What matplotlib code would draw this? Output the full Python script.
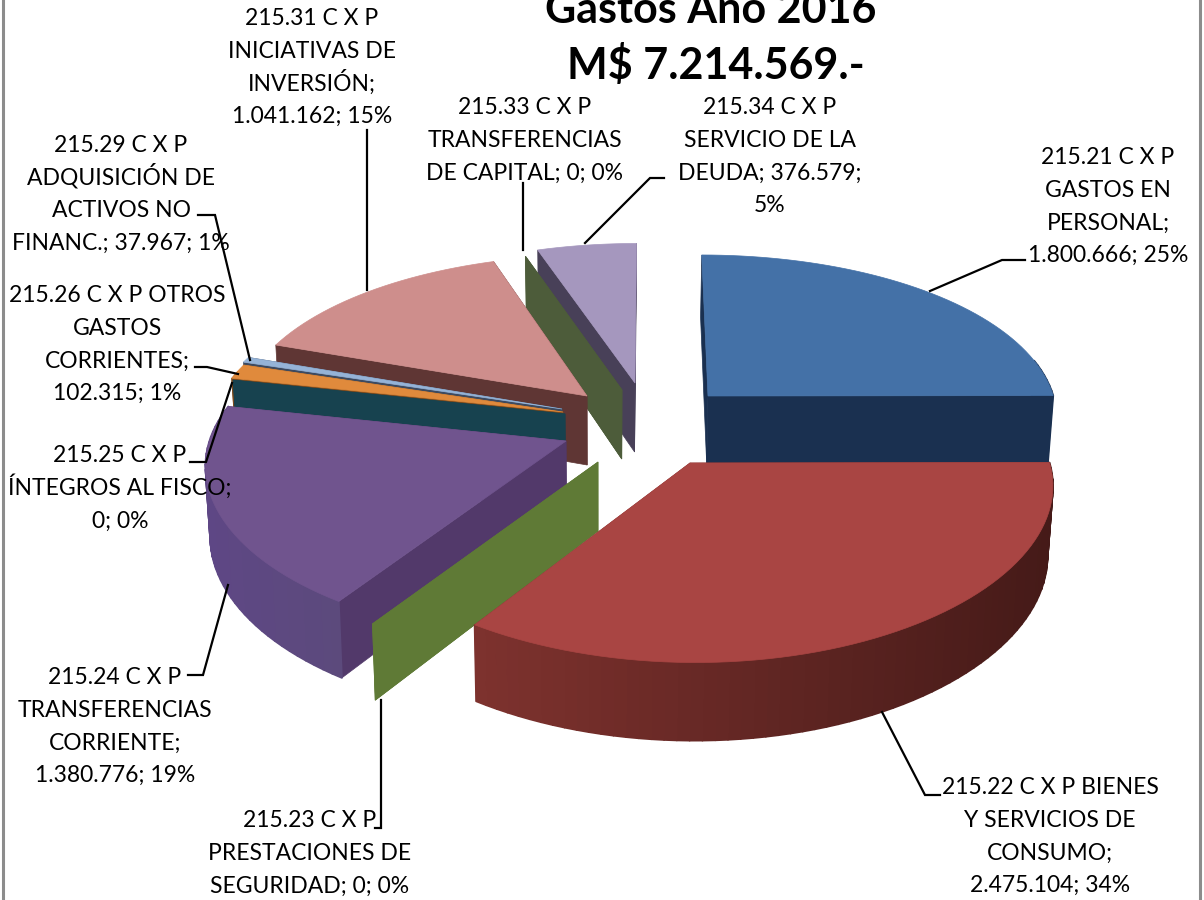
# gastos 2016, exploded 3d pie drawn by hand (matplotlib has no 3d pie)

import math
import matplotlib
matplotlib.use("Agg")
import matplotlib.pyplot as plt
from matplotlib.collections import PolyCollection
from matplotlib.colors import to_rgb

VALUES = [1800666, 2475104, 0, 1380776, 0, 102315, 37967, 1041162, 0, 376579]

LABELS = [
    "215.21 C X P\nGASTOS EN\nPERSONAL;\n1.800.666; 25%",
    "215.22 C X P BIENES\nY SERVICIOS DE\nCONSUMO;\n2.475.104; 34%",
    "215.23 C X P\nPRESTACIONES DE\nSEGURIDAD; 0; 0%",
    "215.24 C X P\nTRANSFERENCIAS\nCORRIENTE;\n1.380.776; 19%",
    "215.25 C X P\nÍNTEGROS AL FISCO;\n0; 0%",
    "215.26 C X P OTROS\nGASTOS\nCORRIENTES;\n102.315; 1%",
    "215.29 C X P\nADQUISICIÓN DE\nACTIVOS NO\nFINANC.; 37.967; 1%",
    "215.31 C X P\nINICIATIVAS DE\nINVERSIÓN;\n1.041.162; 15%",
    "215.33 C X P\nTRANSFERENCIAS\nDE CAPITAL; 0; 0%",
    "215.34 C X P\nSERVICIO DE LA\nDEUDA; 376.579;\n5%",
]

TITLE_LINES = ["Gastos Año 2016", "M$ 7.214.569.-"]

# layout, all in image pixels
TITLE_POS = [(711, 23), (716, 79)]
LINE_H = 32.8
LABEL_POS = [(1108, 205), (1050, 835), (310, 852), (115, 725), (120, 487),
             (117, 343), (121, 193), (312, 66), (525, 139), (770, 155)]

LEADERS = [
    [(1025, 260), (1002, 260), (930, 291)],
    [(940, 795), (925, 795), (882, 712)],
    [(381, 700), (381, 828), (375, 828)],
    [(188, 675), (203, 675), (228, 585)],
    [(190, 462), (206, 462), (232, 383)],
    [(195, 367), (207, 367), (238, 374)],
    [(198, 215), (215, 215), (250, 360)],
    [(367, 130), (367, 290)],
    [(523, 183), (523, 250)],
    [(664, 178), (650, 178), (585, 243)],
]

APEX = [(708, 396), (690, 463), (598, 462), (566, 441), (565, 414),
        (563, 412), (562, 409), (587, 396), (622, 390), (635, 383)]

TOP_COLORS = ["#4471A7", "#A94543", "#5F7A36", "#70548E", "#17424F",
              "#E08A3C", "#95B3D7", "#CE8E8C", "#4D5C3A", "#A597BE"]
WALL_COLORS = ["#1A3050", "#7C302D", "#5F7A36", "#52396A", "#17424F",
               "#7A4A1E", "#3D4A60", "#5F3634", "#4D5C3A", "#484058"]
# colour of the round wall, left end and right end
ARC_LEFT = ["#1A3050", "#7E322E", "#5F7A36", "#5E4785", "#17424F",
            "#7A4A1E", "#3D4A60", "#5F3634", "#4D5C3A", "#484058"]
ARC_RIGHT = ["#1A3050", "#451A18", "#5F7A36", "#5C4A7C", "#17424F",
             "#7A4A1E", "#3D4A60", "#5F3634", "#4D5C3A", "#484058"]

# back to front
DRAW_ORDER = [9, 8, 7, 6, 5, 4, 3, 0, 2, 1]

RX = 355
RY = 167
DEPTH = 69
PERSP_Y = 0.152
PERSP_X = 0.12
VANISH_X = 650
TOTAL = sum(VALUES)


def rim_point(apex, frac):
    # point on the rim of a slice, frac is share of the circle clockwise from top
    slope = 0.0008 if apex[1] < 430 else 0.0004
    f = 1 + (apex[1] - 430) * slope
    angle = 2 * math.pi * frac
    u = math.sin(angle)
    v = math.cos(angle)
    sx = 1 / (1 + PERSP_X * v)
    s = 1 / (1 + PERSP_Y * v)
    x = VANISH_X + (apex[0] - VANISH_X + RX * f * u) * sx
    y = apex[1] - RY * f * v * s
    return x, y, s


def lower(x, y, s):
    # same point on the bottom of the pie, pulled in a little by the perspective
    return x + (600 - x) * 0.012, y + DEPTH * s**0.75


def wall(apex, frac):
    x, y, s = rim_point(apex, frac)
    return [apex, (x, y), lower(x, y, s), lower(apex[0], apex[1], 1)]


def lerp(c1, c2, t):
    a = to_rgb(c1)
    b = to_rgb(c2)
    return tuple(a[i] + (b[i] - a[i]) * t for i in range(3))


fig = plt.figure(figsize=(12.04, 9), dpi=100)
ax = fig.add_axes([0, 0, 1, 1])
ax.set_xlim(0, 1204)
ax.set_ylim(900, 0)
ax.axis("off")

plt.rcParams["font.family"] = "Lato"

# frame of the chart area, runs off the picture at top and bottom
ax.plot([3, 3], [0, 900], color="#8C8C8C", lw=2.2, zorder=0)
ax.plot([1200, 1200], [0, 900], color="#8C8C8C", lw=2.2, zorder=0)

starts = []
running = 0
for val in VALUES:
    starts.append(running / TOTAL)
    running += val

z = 1
for i in DRAW_ORDER:
    apex = APEX[i]
    start = starts[i]
    end = start + VALUES[i] / TOTAL

    # straight walls
    for frac in (end, start):
        ax.fill(*zip(*wall(apex, frac)), color=WALL_COLORS[i], lw=0.5, zorder=z)
        z += 1

    if VALUES[i] == 0:
        continue

    # round wall in small strips so it can shade along the rim
    steps = max(int((end - start) * 200), 2)
    fracs = [start + (end - start) * k / steps for k in range(steps + 1)]
    rim = [rim_point(apex, fr) for fr in fracs]
    xs = [p[0] for p in rim]
    strips = []
    colors = []
    for k in range(steps):
        # back part of the rim can't be seen, leave it out
        if math.cos(2 * math.pi * fracs[k]) > 0.25:
            continue
        x1, y1, s1 = rim[k]
        x2, y2, s2 = rim[k + 1]
        strips.append([(x1, y1), (x2, y2), lower(x2, y2, s2), lower(x1, y1, s1)])
        t = ((x1 + x2) / 2 - min(xs)) / max(max(xs) - min(xs), 1)
        colors.append(lerp(ARC_LEFT[i], ARC_RIGHT[i], t))
    if strips:
        ax.add_collection(PolyCollection(strips, facecolors=colors, edgecolors=colors,
                                         linewidths=1.3, zorder=z))
    z += 1

    # top face
    ax.fill(*zip(*([apex] + [(p[0], p[1]) for p in rim])), color=TOP_COLORS[i],
            lw=0.5, zorder=z)
    z += 1

for line in LEADERS:
    ax.plot(*zip(*line), color="black", lw=1.6, zorder=z, solid_joinstyle="miter")
z += 1

# one text per line so accents don't push the line spacing around
for label, pos in zip(LABELS, LABEL_POS):
    rows = label.split("\n")
    for k, row in enumerate(rows):
        y = pos[1] + (k - (len(rows) - 1) / 2) * LINE_H + 8
        ax.text(pos[0], y, row, ha="center", va="baseline", fontsize=16.5,
                family="Lato", color="black", zorder=z)

for row, pos in zip(TITLE_LINES, TITLE_POS):
    ax.text(pos[0], pos[1], row, ha="center", va="baseline", fontsize=31,
            family="Lato", fontweight="bold", color="black", zorder=z)

fig.savefig("out.png", dpi=100)
